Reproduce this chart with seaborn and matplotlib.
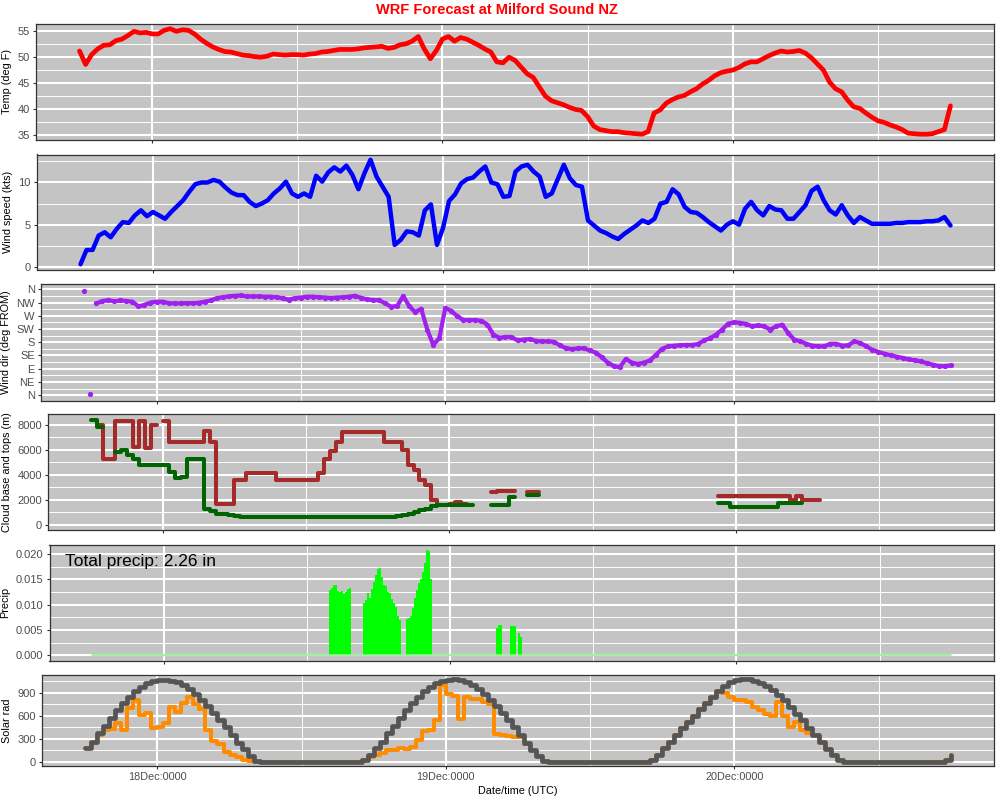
import numpy as np
import pandas as pd
import seaborn as sns
import matplotlib.pyplot as plt
import matplotlib.dates as mdates
from matplotlib.ticker import MultipleLocator, FixedLocator

sns.set_theme(style="whitegrid")
plt.rcParams['font.family'] = ['Liberation Sans', 'DejaVu Sans']

nan = np.nan

# WRF output every 30 minutes, 17Dec 18:00 UTC to 20Dec 18:00 UTC
start = pd.Timestamp('2017-12-17 18:00')
hours = np.arange(0, 72.5, 0.5)
times = start + pd.to_timedelta(hours, unit='h')

temp_f = [
    51.2, 48.6, 50.5, 51.6, 52.3, 52.4, 53.2, 53.5, 54.2, 55.0, 54.7, 54.8,
    54.5, 54.5, 55.2, 55.5, 55.0, 55.3, 55.2, 54.5, 53.5, 52.7, 52.0, 51.5,
    51.1, 51.0, 50.7, 50.4, 50.3, 50.1, 50.0, 50.2, 50.6, 50.5, 50.4, 50.5,
    50.5, 50.4, 50.6, 50.7, 51.0, 51.1, 51.3, 51.5, 51.5, 51.5, 51.6, 51.8,
    51.9, 52.0, 52.1, 51.7, 51.9, 52.4, 52.6, 53.1, 54.0, 51.6, 49.7, 51.3,
    53.5, 54.0, 53.1, 53.8, 53.5, 52.9, 52.3, 51.6, 51.0, 49.1, 48.9, 50.0,
    49.4, 48.1, 46.8, 46.1, 44.3, 42.5, 41.6, 41.2, 40.8, 40.3, 39.9, 39.7,
    38.5, 36.7, 36.0, 35.8, 35.6, 35.6, 35.4, 35.3, 35.2, 35.1, 35.6, 39.2,
    39.8, 41.1, 41.8, 42.3, 42.6, 43.3, 43.9, 44.8, 45.5, 46.4, 47.0, 47.3,
    47.5, 48.0, 48.7, 49.1, 49.1, 49.7, 50.3, 50.8, 51.2, 51.0, 51.1, 51.3,
    50.8, 49.9, 48.7, 47.5, 45.2, 43.9, 43.3, 41.7, 40.4, 40.1, 39.2, 38.4,
    37.7, 37.4, 36.9, 36.5, 36.0, 35.3, 35.2, 35.1, 35.1, 35.2, 35.6, 36.0,
    40.6]

wind_kts = [
    0.3, 2.0, 2.0, 3.7, 4.1, 3.5, 4.5, 5.3, 5.2, 6.1, 6.7, 6.0,
    6.5, 6.1, 5.7, 6.5, 7.2, 7.9, 8.9, 9.8, 10.0, 10.0, 10.3, 10.1,
    9.4, 8.8, 8.5, 8.5, 7.7, 7.2, 7.5, 7.9, 8.7, 9.3, 10.1, 8.7,
    8.3, 8.7, 8.3, 10.8, 10.1, 11.2, 11.8, 11.3, 12.0, 10.9, 9.2, 11.1,
    12.7, 10.7, 9.5, 8.3, 2.6, 3.2, 4.2, 4.1, 3.7, 6.7, 7.4, 2.6,
    4.6, 7.8, 8.6, 9.9, 10.4, 10.6, 11.3, 11.9, 10.0, 9.8, 8.3, 8.4,
    11.3, 11.9, 12.1, 11.3, 10.7, 8.3, 8.7, 10.4, 12.1, 10.5, 9.7, 9.5,
    5.5, 4.9, 4.3, 4.0, 3.6, 3.3, 3.9, 4.4, 4.9, 5.5, 5.2, 5.7,
    7.5, 7.7, 9.2, 8.6, 7.1, 6.5, 6.4, 5.9, 5.3, 4.8, 4.3, 5.0,
    5.4, 5.0, 6.9, 7.7, 6.7, 6.1, 7.2, 6.8, 6.7, 5.7, 5.7, 6.5,
    7.3, 9.0, 9.5, 7.9, 6.7, 6.2, 7.3, 6.1, 5.2, 5.9, 5.5, 5.1,
    5.1, 5.1, 5.1, 5.2, 5.2, 5.3, 5.3, 5.3, 5.4, 5.4, 5.5, 5.9,
    4.9]

wind_dir = [
    355, 5, 312, 320, 323, 319, 322, 320, 318, 302, 307, 315,
    318, 318, 313, 312, 312, 313, 313, 314, 318, 322, 330, 333,
    336, 338, 339, 336, 336, 336, 335, 335, 333, 329, 325, 330,
    332, 335, 335, 333, 332, 330, 332, 333, 335, 338, 331, 326,
    323, 323, 312, 301, 303, 337, 303, 282, 294, 223, 171, 194,
    297, 286, 269, 255, 255, 255, 253, 240, 206, 195, 198, 198,
    186, 189, 191, 185, 183, 183, 182, 170, 160, 157, 159, 160,
    152, 145, 129, 111, 99, 95, 123, 111, 106, 111, 118, 137,
    157, 166, 168, 170, 171, 171, 174, 186, 194, 206, 223, 243,
    248, 246, 242, 234, 237, 234, 223, 234, 240, 211, 189, 183,
    175, 168, 166, 166, 175, 175, 168, 170, 183, 177, 166, 154,
    147, 141, 136, 131, 127, 122, 119, 115, 109, 104, 99, 98,
    101]
dir_ticks = [0, 45, 90, 135, 180, 225, 270, 315, 360]
dir_labels = ['N', 'NE', 'E', 'SE', 'S', 'SW', 'W', 'NW', 'N']

cloud_base = [
    8400, 7800, nan, nan, 5800, 6000, 5600, 5250, 4750, 4750, 4750, 4750,
    4750, 4200, 3750, 3800, 5250, 5250, 5250, 1300, 1080, 850, 840, 800,
    700, 650, 640, 640, 620, 620, 640, 630, 620, 610, 600, 600,
    600, 600, 600, 610, 600, 600, 600, 610, 610, 600, 600, 620,
    650, 640, 650, 700, 800, 900, 1000, 1200, 1300, 1500, 1550, 1550,
    1550, 1550, 1600, 1600, nan, nan, nan, 1550, 1550, 1550, 2200, nan,
    nan, 2400, 2400, nan, nan, nan, nan, nan, nan, nan, nan, nan,
    nan, nan, nan, nan, nan, nan, nan, nan, nan, nan, nan, nan,
    nan, nan, nan, nan, nan, nan, nan, nan, nan, 1750, 1750, 1450,
    1450, 1450, 1450, 1450, 1450, 1450, 1450, 1750, 1750, 1750, 1750, nan,
    nan, nan, nan, nan, nan, nan, nan, nan, nan, nan, nan, nan,
    nan, nan, nan, nan, nan, nan, nan, nan, nan, nan, nan, nan,
    nan]

cloud_top = [
    nan, 8000, 5250, 5250, 8300, 8300, 8300, 6200, 8300, 6100, 8000, nan,
    8300, 6600, 6600, 6600, 6600, 6600, 6600, 7500, 6600, 1700, 1700, 1700,
    3600, 3600, 4150, 4150, 4150, 4150, 4150, 3600, 3600, 3600, 3600, 3600,
    3600, 3600, 4150, 5250, 5900, 6600, 7400, 7400, 7400, 7400, 7400, 7400,
    7400, 6600, 6600, 6600, 5950, 4750, 4375, 3600, 3200, 2000, 1620, 1620,
    1700, 1860, 1700, nan, nan, nan, nan, 2650, 2670, 2670, 2670, nan,
    nan, 2600, 2600, nan, nan, nan, nan, nan, nan, nan, nan, nan,
    nan, nan, nan, nan, nan, nan, nan, nan, nan, nan, nan, nan,
    nan, nan, nan, nan, nan, nan, nan, nan, nan, 2300, 2300, 2300,
    2300, 2300, 2300, 2300, 2300, 2300, 2300, 2300, 2300, 2000, 2300, 2000,
    2000, 2000, nan, nan, nan, nan, nan, nan, nan, nan, nan, nan,
    nan, nan, nan, nan, nan, nan, nan, nan, nan, nan, nan, nan,
    nan]

# rain bursts: start (hours after first output) and 10-minute amounts (in)
rain_start = [19.83, 22.67, 26.33, 33.83, 35.0, 35.67]
rain_amounts = [
    [0.0129, 0.0132, 0.0139, 0.0138, 0.0126, 0.0124, 0.0126, 0.0121, 0.0124, 0.0131, 0.0133],
    [0.0104, 0.0108, 0.0123, 0.0113, 0.0130, 0.0144, 0.0159, 0.0170, 0.0172, 0.0155,
     0.0139, 0.0137, 0.0125, 0.0122, 0.0110, 0.0103, 0.0095, 0.0077, 0.0070],
    [0.0071, 0.0074, 0.0078, 0.0093, 0.0113, 0.0128, 0.0142, 0.0150, 0.0165, 0.0182,
     0.0208, 0.0205, 0.0150],
    [0.0054, 0.0060, 0.0060],
    [0.0057, 0.0057, 0.0058],
    [0.0043, 0.0036]]
total_precip = 2.26

solar_clear = [
    175, 263, 373, 470, 570, 670, 768, 850, 922, 980, 1023, 1050,
    1067, 1072, 1060, 1040, 1000, 950, 880, 810, 725, 640, 550, 450,
    350, 250, 162, 80, 15, 0, 0, 0, 0, 0, 0, 0,
    0, 0, 0, 0, 0, 0, 0, 0, 0, 0, 30, 87,
    175, 265, 370, 470, 575, 670, 765, 850, 925, 980, 1025, 1050,
    1065, 1075, 1065, 1040, 1005, 955, 885, 810, 725, 640, 548, 450,
    350, 250, 160, 80, 15, 0, 0, 0, 0, 0, 0, 0,
    0, 0, 0, 0, 0, 0, 0, 0, 0, 0, 30, 87,
    175, 260, 350, 435, 520, 600, 690, 770, 850, 920, 990, 1040,
    1065, 1078, 1075, 1055, 1025, 985, 935, 870, 800, 720, 630, 540,
    445, 350, 255, 165, 85, 25, 0, 0, 0, 0, 0, 0,
    0, 0, 0, 0, 0, 0, 0, 0, 0, 0, 0, 30,
    90]

solar_actual = [
    175, 240, 350, 417, 430, 505, 420, 700, 810, 615, 640, 440,
    450, 500, 720, 650, 770, 850, 760, 690, 417, 270, 230, 130,
    88, 57, 30, 9, 0, 0, 0, 0, 0, 0, 0, 0,
    0, 0, 0, 0, 0, 0, 0, 0, 0, 0, 30, 60,
    90, 120, 150, 150, 180, 170, 200, 280, 400, 420, 550, 1000,
    880, 860, 560, 850, 820, 820, 780, 750, 360, 350, 340, 330,
    320, 230, 150, 80, 15, 0, 0, 0, 0, 0, 0, 0,
    0, 0, 0, 0, 0, 0, 0, 0, 0, 0, 30, 87,
    175, 260, 350, 435, 520, 600, 690, 770, 850, 920, 900, 850,
    800, 810, 780, 720, 680, 620, 600, 780, 600, 460, 520, 420,
    380, 350, 255, 165, 85, 25, 0, 0, 0, 0, 0, 0,
    0, 0, 0, 0, 0, 0, 0, 0, 0, 0, 0, 30,
    90]

# ---------------------------------------------------------------------
fig = plt.figure(figsize=(10, 8), dpi=100)
W, H = 1000.0, 800.0
right = 994
# panel boxes in pixels: left, top, bottom
boxes = [(36, 23.5, 139.5), (37, 154.5, 269.5), (41, 284, 400.5),
         (48, 414.5, 530), (49.5, 544.5, 660.5), (42, 675, 766)]
axes = [fig.add_axes([l / W, 1 - b / H, (right - l) / W, (b - t) / H])
        for l, t, b in boxes]

pad = pd.Timedelta(hours=72 * 0.05)
xlim = (times[0] - pad, times[-1] + pad)


def expand(lo, hi):
    r = hi - lo
    return lo - 0.05 * r, hi + 0.05 * r


def style_panel(ax, ylabel, major, minor, ylim):
    ax.set_facecolor('#C4C4C4')
    ax.set_xlim(*xlim)
    ax.set_ylim(*ylim)
    ax.xaxis.set_major_locator(mdates.DayLocator())
    ax.xaxis.set_minor_locator(mdates.HourLocator(byhour=[12]))
    if major is not None:
        ax.yaxis.set_major_locator(MultipleLocator(major))
        ax.yaxis.set_minor_locator(MultipleLocator(minor))
    ax.grid(which='major', color='white', linewidth=1.5)
    ax.grid(which='minor', color='white', linewidth=0.7)
    ax.set_axisbelow(True)
    for s in ax.spines.values():
        s.set_color('#333333')
        s.set_linewidth(0.9)
    ax.tick_params(which='major', length=2.5, width=0.8, color='#333333',
                   labelsize=8, labelcolor='#4D4D4D', pad=2,
                   bottom=True, left=True)
    ax.tick_params(which='minor', length=0)
    ax.tick_params(axis='x', labelbottom=False)
    ax.set_xlabel('')
    ax.set_ylabel(ylabel, fontsize=7.8, color='black', labelpad=4)


ax1, ax2, ax3, ax4, ax5, ax6 = axes

# Temperature
sns.lineplot(x=times, y=temp_f, ax=ax1, color='#FF0000', linewidth=3.4)
style_panel(ax1, 'Temp (deg F)', 5, 2.5, expand(min(temp_f), max(temp_f)))

# Wind speed
sns.lineplot(x=times, y=wind_kts, ax=ax2, color='#0000FF', linewidth=3.2)
style_panel(ax2, 'Wind speed (kts)', 5, 2.5, expand(min(wind_kts), max(wind_kts)))

# Wind direction, broken where it wraps through north
d = np.array(wind_dir, dtype=float)
breaks = np.where(np.abs(np.diff(d)) > 180)[0] + 1
for seg in np.split(np.arange(len(d)), breaks):
    ax3.plot(times[seg], d[seg], color='#A020F0', linewidth=3.0,
             marker='o', markersize=3.8, markeredgewidth=0,
             solid_capstyle='round', solid_joinstyle='round')
style_panel(ax3, 'Wind dir (deg FROM)', None, None, expand(0, 360))
ax3.yaxis.set_major_locator(FixedLocator(dir_ticks))
ax3.yaxis.set_minor_locator(MultipleLocator(22.5))
ax3.set_yticklabels(dir_labels)

# Cloud base and tops
ax4.plot(times, cloud_top, drawstyle='steps-post', color='#A52A2A', linewidth=2.9)
ax4.plot(times, cloud_base, drawstyle='steps-post', color='#006400', linewidth=2.9)
style_panel(ax4, 'Cloud base and tops (m)', 2000, 1000,
            expand(0, np.nanmax(cloud_top + cloud_base)))

# Precipitation
ax5.plot([times[0], times[-1]], [0, 0], color='#90EE90', linewidth=1.2)
for s0, amounts in zip(rain_start, rain_amounts):
    t = [start + pd.Timedelta(hours=s0 + i / 6) for i in range(len(amounts))]
    ax5.bar(t, amounts, width=1 / 144, align='edge', color='#00FF00', linewidth=0)
pmax = max(max(a) for a in rain_amounts)
style_panel(ax5, 'Precip', 0.005, 0.0025, expand(0, pmax))
ax5.yaxis.set_major_formatter(plt.FormatStrFormatter('%.3f'))
ax5.text(0.016, 0.85, f'Total precip: {total_precip} in', transform=ax5.transAxes,
         fontsize=12.5, color='black', va='center', ha='left')

# Solar radiation
ax6.plot(times, solar_actual, drawstyle='steps-post', color='#FF8C00', linewidth=2.9)
ax6.plot(times, solar_clear, drawstyle='steps-post', color='#555555', linewidth=3.4)
style_panel(ax6, 'Solar rad', 300, 150, expand(0, max(solar_clear)))
ax6.tick_params(axis='x', labelbottom=True, labelsize=7.8)
ax6.xaxis.set_major_formatter(mdates.DateFormatter('%d%b:%H%M'))
ax6.set_xlabel('Date/time (UTC)', fontsize=7.8, color='black', labelpad=3)

fig.text(0.497, 1 - 10 / H, 'WRF Forecast at Milford Sound NZ', color='#FF0000',
         fontsize=10.5, fontweight='bold', ha='center', va='center')

fig.savefig('out.png', dpi=100)
